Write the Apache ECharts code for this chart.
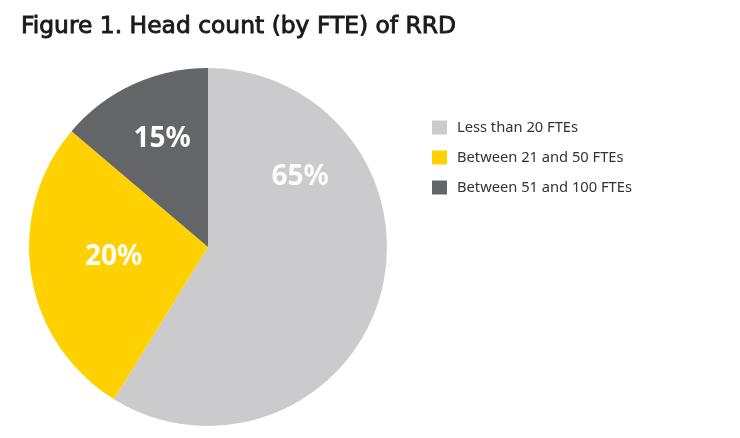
<!DOCTYPE html>
<html>
<head>
<meta charset="utf-8">
<script src="https://cdn.jsdelivr.net/npm/echarts@6/dist/echarts.min.js"></script>
<style>
  html, body { margin: 0; padding: 0; background: #fff; }
  #chart { width: 740px; height: 438px; }
</style>
</head>
<body>
<div id="chart"></div>
<script>
// categories and the printed percentages
const categories = ['Less than 20 FTEs', 'Between 21 and 50 FTEs', 'Between 51 and 100 FTEs'];
const printedShares = [65, 20, 15];
const drawnShares = [58.8, 27.4, 13.8];
const colors = ['#CBCBCD', '#FFD100', '#646569'];

// label placement inside each slice: [angle clockwise from 12 o'clock, fraction of radius]
const labelSpots = [[53, 0.645], [264, 0.53], [337, 0.655]];

const centerX = 208, centerY = 247, radius = 179;

const chart = echarts.init(document.getElementById('chart'));

const option = {
  animation: false,
  title: {
    text: 'Figure 1. Head count (by FTE) of RRD',
    left: 21,
    top: 15,
    padding: 0,
    textStyle: {
      fontFamily: 'DejaVu Sans',
      fontSize: 23.4,
      fontWeight: 'normal',
      color: '#1a1a1a',
      textBorderColor: '#1a1a1a',
      textBorderWidth: 0.9
    }
  },
  legend: {
    orient: 'vertical',
    left: 432,
    top: 120,
    padding: 0,
    itemWidth: 15,
    itemHeight: 14,
    itemGap: 15,
    icon: 'rect',
    data: categories,
    textStyle: {
      fontFamily: 'Noto Sans',
      fontSize: 14.7,
      color: '#333',
      padding: [0, 0, 0, 5]
    }
  },
  series: [{
    type: 'pie',
    center: [centerX, centerY],
    radius: radius,
    startAngle: 90,
    clockwise: true,
    silent: true,
    label: {
      show: true,
      position: 'inside',
      fontFamily: 'Noto Sans',
      fontSize: 28,
      fontWeight: 'bold',
      color: '#fcfcfc',
      formatter: function (p) {
        return printedShares[p.dataIndex] + '%';
      }
    },
    labelLine: { show: false },
    itemStyle: { borderWidth: 0 },
    labelLayout: function (params) {
      const spot = labelSpots[params.dataIndex];
      const a = spot[0] * Math.PI / 180;
      return {
        x: centerX + Math.sin(a) * spot[1] * radius,
        y: centerY - Math.cos(a) * spot[1] * radius,
        align: 'center',
        verticalAlign: 'middle'
      };
    },
    data: categories.map(function (name, i) {
      return { name: name, value: drawnShares[i], itemStyle: { color: colors[i] } };
    })
  }]
};

chart.setOption(option);
</script>
</body>
</html>
